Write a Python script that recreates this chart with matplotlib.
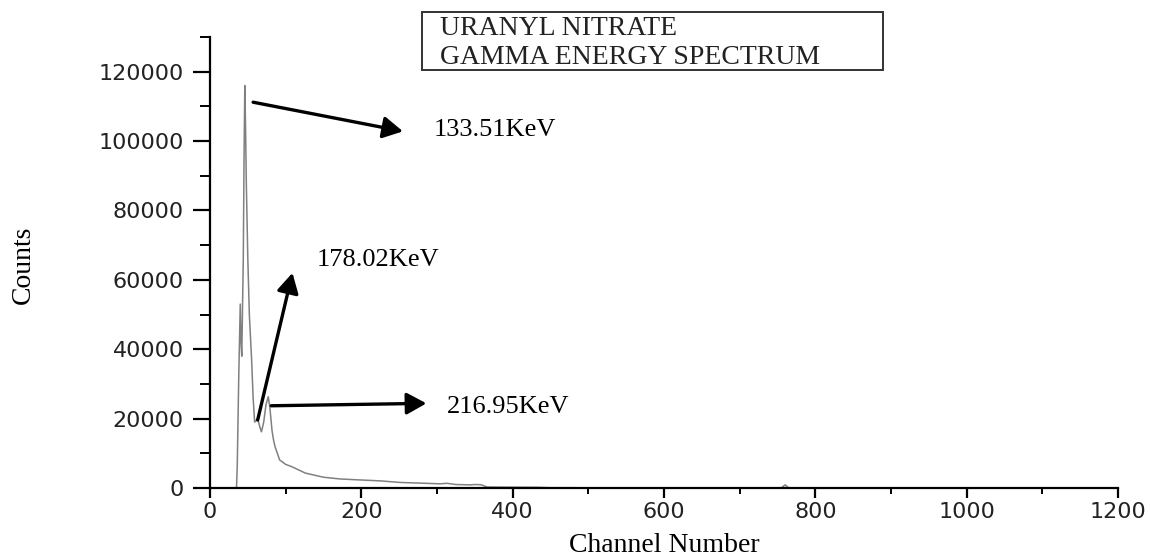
import matplotlib.pyplot as plt
from matplotlib.patches import Rectangle
from matplotlib.ticker import MultipleLocator

# spectrum (channel, counts)
channel = [33, 35, 36, 38, 40, 41, 42, 44, 45, 46, 47, 48, 50, 52, 55, 57, 59, 61, 63, 66,
           68, 71, 74, 77, 79, 82, 84, 86, 92, 100, 108, 126, 150, 172, 200, 225, 251, 278,
           304, 313, 325, 344, 350, 358, 366, 380, 432, 450, 520, 600, 755, 760, 765, 900, 1024]
counts = [0, 0, 6000, 32000, 53000, 42000, 38000, 66000, 95000, 116000, 104000, 88000, 66000,
          50000, 37000, 26000, 19000, 19500, 20000, 17500, 16200, 19000, 24000, 26300, 23500,
          16500, 13800, 11900, 8100, 6800, 6150, 4300, 3100, 2600, 2300, 2050, 1600, 1400,
          1200, 1350, 1000, 900, 1000, 950, 300, 250, 200, 80, 50, 30, 20, 900, 20, 10, 0]

# peak labels: text, arrow tail, arrow tip, text position
peak_labels = ['133.51KeV', '178.02KeV', '216.95KeV']
arrow_tail = [(57, 111200), (63, 19600), (81, 23700)]
arrow_tip = [(255, 102800), (109, 62000), (286, 24400)]
label_pos = [(295, 103300), (141, 65800), (313, 23300)]

title_lines = ['URANYL NITRATE', 'GAMMA ENERGY SPECTRUM']

fig = plt.figure(figsize=(11.5, 5.57), dpi=100)
ax = fig.add_axes([0.1826, 0.1239, 0.7896, 0.8097])

ax.plot(channel, counts, color='#808080', lw=1.1)

ax.set_xlim(0, 1200)
ax.set_ylim(0, 130000)
ax.spines['top'].set_visible(False)
ax.spines['right'].set_visible(False)
ax.spines['left'].set_linewidth(1.6)
ax.spines['bottom'].set_linewidth(1.6)

ax.xaxis.set_major_locator(MultipleLocator(200))
ax.xaxis.set_minor_locator(MultipleLocator(100))
ax.yaxis.set_major_locator(MultipleLocator(20000))
ax.yaxis.set_minor_locator(MultipleLocator(10000))
ax.ticklabel_format(style='plain', axis='y')

ax.tick_params(axis='x', which='major', length=7, width=1.6, pad=3, labelsize=16)
ax.tick_params(axis='x', which='minor', length=4, width=1.4)
ax.tick_params(axis='y', which='major', length=12, width=1.6, pad=7, labelsize=16)
ax.tick_params(axis='y', which='minor', length=7, width=1.4)
for lab in ax.get_xticklabels() + ax.get_yticklabels():
    lab.set_color('#222222')

ax.set_xlabel('Channel Number', fontfamily='Liberation Serif', fontsize=20, labelpad=8)
fig.text(0.02, 0.525, 'Counts', rotation=90, fontfamily='Liberation Serif', fontsize=20,
         ha='center', va='center')

for txt, tail, tip, pos in zip(peak_labels, arrow_tail, arrow_tip, label_pos):
    ax.annotate('', xy=tip, xytext=tail,
                arrowprops=dict(arrowstyle='-|>,head_length=0.6,head_width=0.33',
                                color='black', lw=2.4, shrinkA=0, shrinkB=0,
                                mutation_scale=20))
    ax.text(pos[0], pos[1], txt, fontfamily='Liberation Serif', fontsize=19,
            ha='left', va='center')

# title box
fig.patches.append(Rectangle((0.367, 0.874), 0.401, 0.1045, transform=fig.transFigure,
                             fill=False, edgecolor='#333333', lw=1.4))
fig.text(0.383, 0.948, title_lines[0], fontfamily='Liberation Serif', fontsize=20,
         ha='left', va='center', color='#222222')
fig.text(0.383, 0.897, title_lines[1], fontfamily='Liberation Serif', fontsize=20,
         ha='left', va='center', color='#222222')

fig.savefig('out.png', dpi=100)
